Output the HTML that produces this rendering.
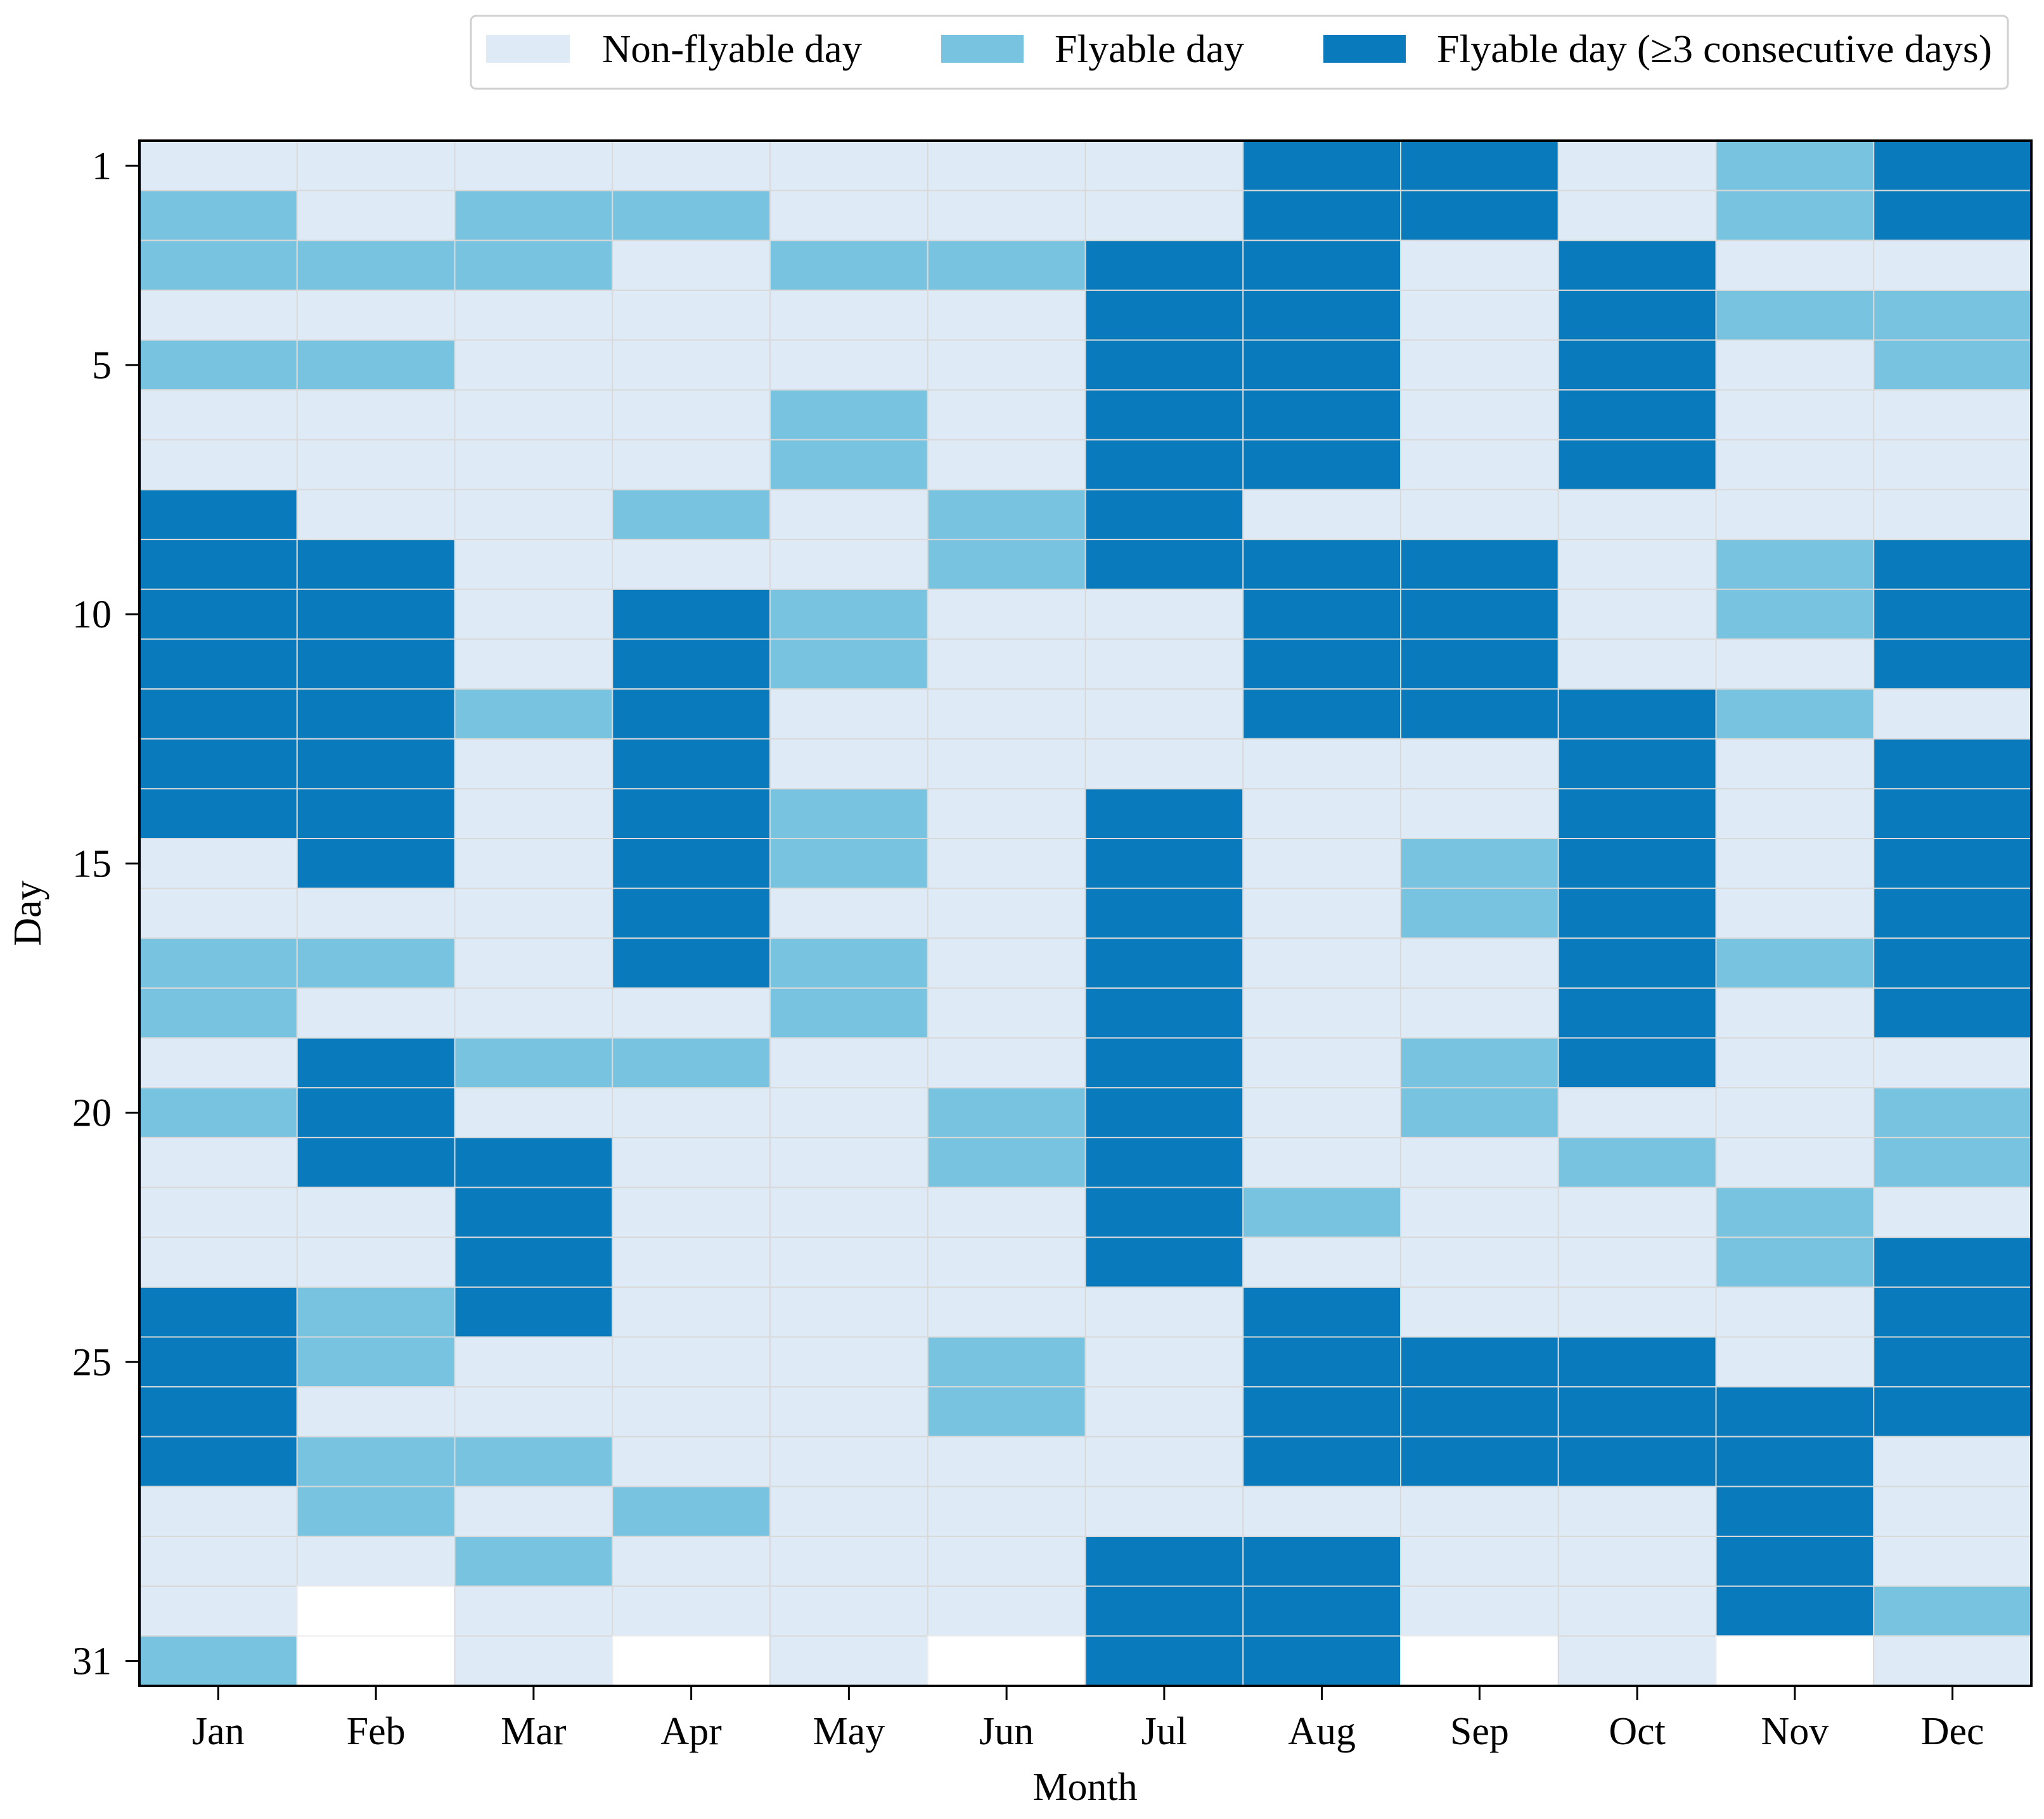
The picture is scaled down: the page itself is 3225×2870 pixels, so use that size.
<!DOCTYPE html>
<html><head><meta charset="utf-8"><style>
html,body{margin:0;padding:0;background:#fff;}
svg{display:block;font-family:"Liberation Serif","DejaVu Serif",serif;}
</style></head><body>
<svg id="chart" width="3225" height="2870" viewBox="0 0 3225 2870" xmlns="http://www.w3.org/2000/svg">
<g>
<rect x="743" y="25" width="2425" height="115" rx="8" fill="#fff" stroke="#d0d0d0" stroke-width="3"/>
<rect x="767" y="55" width="132" height="44" fill="#deebf7"/>
<text x="950" y="98" font-size="62" textLength="410" lengthAdjust="spacingAndGlyphs">Non-flyable day</text>
<rect x="1485" y="55" width="130" height="44" fill="#78c3df"/>
<text x="1664" y="98" font-size="62" textLength="299" lengthAdjust="spacingAndGlyphs">Flyable day</text>
<rect x="2088" y="55" width="130" height="44" fill="#097bbc"/>
<text x="2267" y="98" font-size="62" textLength="876" lengthAdjust="spacingAndGlyphs">Flyable day (≥3 consecutive days)</text>
</g>
<g id="cells"></g>
<g id="axes"></g>
<text x="1712" y="2840" font-size="62" text-anchor="middle">Month</text>
<text x="0" y="0" font-size="62" text-anchor="middle" transform="translate(64,1441) rotate(-90)">Day</text>
</svg>
<script>
const months=["Jan","Feb","Mar","Apr","May","Jun","Jul","Aug","Sep","Oct","Nov","Dec"];
const yTicks=[1,5,10,15,20,25,31];
// 0 non-flyable, 1 flyable, 2 flyable >=3 consecutive, X no such day
const jan="0110100222222200110100022220001";
const feb="00101000222222201022200110110XX";
const mar="0110000000010000001022220010100";
const apr="010000010222222220100000000100X";
const may="0010011001100110110000000000000";
const jun="001000011000000000011000110000X";
const jul="0022222220000222222222200000222";
const aug="2222222022220000000001022220222";
const sep="220000002222001100110000222000X";
const oct="0022222000022222222010002220000";
const nov="110100001101000010000110022222X";
const dec="2201100022202222220110222200010";
const series=[jan,feb,mar,apr,may,jun,jul,aug,sep,oct,nov,dec];
const L=220,T=222,R=3205,B=2660,nDays=31;
const cw=(R-L)/months.length, ch=(B-T)/nDays;
const xPos=i=>L+i*cw, yPos=d=>T+(d-1)*ch;
const colors={"0":"#deebf7","1":"#78c3df","2":"#097bbc","X":"#ffffff"};
const NS="http://www.w3.org/2000/svg";
const cells=document.getElementById("cells"), axes=document.getElementById("axes");
series.forEach((s,m)=>{
  for(let d=1;d<=nDays;d++){
    const v=s[d-1]||"X";
    const r=document.createElementNS(NS,"rect");
    r.setAttribute("x",xPos(m));r.setAttribute("y",yPos(d));
    r.setAttribute("width",cw);r.setAttribute("height",ch);
    r.setAttribute("fill",colors[v]);
    r.setAttribute("stroke",v==="X"?"#eeeeee":"#d9d9d9");r.setAttribute("stroke-width","2");
    
    
    cells.appendChild(r);
  }
});
const frame=document.createElementNS(NS,"rect");
frame.setAttribute("x",L);frame.setAttribute("y",T);frame.setAttribute("width",R-L);frame.setAttribute("height",B-T);
frame.setAttribute("fill","none");frame.setAttribute("stroke","#000");frame.setAttribute("stroke-width","4");


axes.appendChild(frame);
months.forEach((mn,i)=>{
  const cx=xPos(i)+cw/2;
  const t=document.createElementNS(NS,"line");
  t.setAttribute("x1",cx);t.setAttribute("x2",cx);t.setAttribute("y1",B);t.setAttribute("y2",B+22);
  t.setAttribute("stroke","#000");t.setAttribute("stroke-width","3");
  
  
  axes.appendChild(t);
  const tx=document.createElementNS(NS,"text");
  tx.setAttribute("x",cx);tx.setAttribute("y",2752);tx.setAttribute("font-size","62");tx.setAttribute("text-anchor","middle");
  tx.textContent=mn;
  
  
  axes.appendChild(tx);
});
yTicks.forEach(d=>{
  const cy=yPos(d)+ch/2;
  const t=document.createElementNS(NS,"line");
  t.setAttribute("x1",L-22);t.setAttribute("x2",L);t.setAttribute("y1",cy);t.setAttribute("y2",cy);
  t.setAttribute("stroke","#000");t.setAttribute("stroke-width","3");
  
  
  axes.appendChild(t);
  const tx=document.createElementNS(NS,"text");
  tx.setAttribute("x",176);tx.setAttribute("y",cy+21);tx.setAttribute("font-size","62");tx.setAttribute("text-anchor","end");
  tx.textContent=d;
  
  
  axes.appendChild(tx);
});
</script>
</body></html>
